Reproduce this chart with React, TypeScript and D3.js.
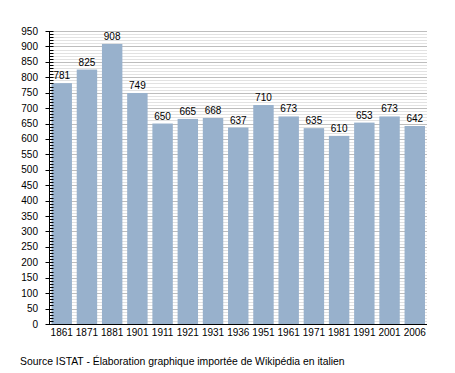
import * as d3 from "d3";

const years = ["1861", "1871", "1881", "1901", "1911", "1921", "1931", "1936", "1951", "1961", "1971", "1981", "1991", "2001", "2006"];
const population = [781, 825, 908, 749, 650, 665, 668, 637, 710, 673, 635, 610, 653, 673, 642];
const yMax = 950;
const caption = "Source ISTAT - Élaboration graphique importée de Wikipédia en italien";

const W = 455;
const H = 373;
const left = 49.5;
const right = 427;
const top = 31;
const bottom = 324;

export default function App() {
  const x = d3.scaleBand<string>().domain(years).range([left, right]).paddingInner(0.19).paddingOuter(0.08);
  const y = d3.scaleLinear().domain([0, yMax]).range([bottom, top]);
  const minor = d3.range(0, yMax + 1, 10);
  const major = d3.range(0, yMax + 1, 50);
  const font = "'Liberation Sans', Arial, sans-serif";

  return (
    <svg width={W} height={H} style={{ position: "absolute", left: 0, top: 0 }} fontFamily={font}>
      <rect width={W} height={H} fill="#fff" />
      {minor.filter((v) => v % 50 !== 0).map((v) => (
        <line key={"m" + v} x1={left} x2={right} y1={Math.round(y(v)) + 0.5} y2={Math.round(y(v)) + 0.5} stroke="#e2e2e2" />
      ))}
      {major.filter((v) => v > 0).map((v) => (
        <line key={"M" + v} x1={left} x2={right} y1={Math.round(y(v)) + 0.5} y2={Math.round(y(v)) + 0.5} stroke="#bdbdbd" />
      ))}
      {population.map((v, i) => (
        <g key={years[i]}>
          <rect x={x(years[i])} y={y(v)} width={x.bandwidth()} height={bottom - y(v)} fill="#98b1cc" />
          <text x={x(years[i])! + x.bandwidth() / 2} y={y(v) - 4} textAnchor="middle" fontSize={10} fill="#000">{v}</text>
        </g>
      ))}
      <line x1={left} x2={left} y1={top} y2={bottom} stroke="#000" />
      <line x1={left - 0.5} x2={right} y1={bottom + 0.5} y2={bottom + 0.5} stroke="#000" />
      {minor.map((v) => (
        <line key={"t" + v} x1={v % 50 === 0 ? left - 4 : left} x2={left + 4} y1={Math.round(y(v)) + 0.5} y2={Math.round(y(v)) + 0.5} stroke="#000" />
      ))}
      {major.map((v) => (
        <text key={"l" + v} x={38} y={y(v) + 3.5} textAnchor="end" fontSize={10} fill="#000">{v}</text>
      ))}
      {years.map((yr) => (
        <text key={"x" + yr} x={x(yr)! + x.bandwidth() / 2} y={336} textAnchor="middle" fontSize={10} fill="#000">{yr}</text>
      ))}
      <text x={20} y={365} fontSize={10.4} fill="#000">{caption}</text>
    </svg>
  );
}
